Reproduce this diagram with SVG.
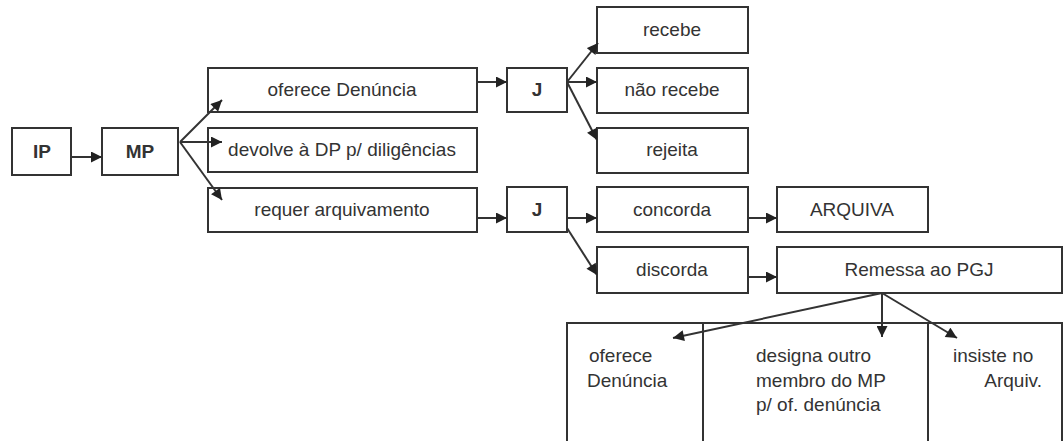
<svg xmlns="http://www.w3.org/2000/svg" width="1064" height="441" viewBox="0 0 1064 441">
<style>
.box{fill:#fff;stroke:#333;stroke-width:2}
.t{font-family:"Liberation Sans",Arial,sans-serif;font-size:19px;fill:#333;text-anchor:middle}
.b{font-weight:bold;font-size:19px}
.l{text-anchor:start}
.r{text-anchor:end}
.c{stroke:#333;stroke-width:2;fill:none;marker-end:url(#ah)}
</style>
<defs>
<marker id="ah" viewBox="0 0 10 10" refX="10" refY="5" markerWidth="6" markerHeight="5.5" orient="auto" markerUnits="strokeWidth">
<path d="M0,0 L10,5 L0,10 z" fill="#222"/>
</marker>
</defs>
<rect width="1064" height="441" fill="#fff"/>
<g id="n-ip"><rect class="box" x="12" y="128" width="59" height="47"/><text class="t b" x="42" y="158">IP</text></g>
<g id="n-mp"><rect class="box" x="102" y="128" width="76" height="47"/><text class="t b" x="140" y="158">MP</text></g>
<g id="n-oferece"><rect class="box" x="208" y="68" width="269" height="44"/><text class="t" x="342" y="96">oferece Denúncia</text></g>
<g id="n-devolve"><rect class="box" x="208" y="128" width="269" height="44"/><text class="t" x="342" y="156">devolve à DP p/ diligências</text></g>
<g id="n-requer"><rect class="box" x="208" y="188" width="269" height="44"/><text class="t" x="342" y="216">requer arquivamento</text></g>
<g id="n-j1"><rect class="box" x="507" y="68" width="60" height="44"/><text class="t b" x="537" y="96">J</text></g>
<g id="n-j2"><rect class="box" x="507" y="187" width="60" height="45"/><text class="t b" x="537" y="216">J</text></g>
<g id="n-recebe"><rect class="box" x="597" y="7" width="151" height="46"/><text class="t" x="672" y="36">recebe</text></g>
<g id="n-naorecebe"><rect class="box" x="597" y="68" width="151" height="45"/><text class="t" x="672" y="96">não recebe</text></g>
<g id="n-rejeita"><rect class="box" x="597" y="128" width="151" height="45"/><text class="t" x="672" y="156">rejeita</text></g>
<g id="n-concorda"><rect class="box" x="597" y="187" width="151" height="45"/><text class="t" x="672" y="216">concorda</text></g>
<g id="n-discorda"><rect class="box" x="597" y="247" width="151" height="46"/><text class="t" x="672" y="276">discorda</text></g>
<g id="n-arquiva"><rect class="box" x="777" y="187" width="151" height="45"/><text class="t" x="852" y="216">ARQUIVA</text></g>
<g id="n-remessa"><rect class="box" x="777" y="247" width="285" height="46"/><text class="t" x="919" y="276">Remessa ao PGJ</text></g>
<g id="n-ofden"><rect class="box" x="567" y="323" width="136" height="130"/><text class="t l" x="589" y="362">oferece</text><text class="t l" x="587" y="387">Denúncia</text></g>
<g id="n-designa"><rect class="box" x="703" y="323" width="225" height="130"/><text class="t l" x="756" y="362">designa outro</text><text class="t l" x="756" y="387">membro do MP</text><text class="t l" x="756" y="411">p/ of. denúncia</text></g>
<g id="n-insiste"><rect class="box" x="928" y="323" width="134" height="130"/><text class="t l" x="953" y="362">insiste no</text><text class="t r" x="1042" y="387">Arquiv.</text></g>
<g id="connectors">
<line class="c" x1="71" y1="157" x2="102" y2="157"/>
<line class="c" x1="180" y1="142" x2="222" y2="100"/>
<line class="c" x1="180" y1="142" x2="222" y2="142"/>
<line class="c" x1="180" y1="142" x2="222" y2="200"/>
<line class="c" x1="477" y1="82" x2="507" y2="82"/>
<line class="c" x1="567" y1="82" x2="598" y2="43"/>
<line class="c" x1="567" y1="82" x2="597" y2="82"/>
<line class="c" x1="567" y1="82" x2="597" y2="140"/>
<line class="c" x1="477" y1="218" x2="507" y2="218"/>
<line class="c" x1="567" y1="218" x2="597" y2="218"/>
<line class="c" x1="567" y1="228" x2="597" y2="275"/>
<line class="c" x1="748" y1="218" x2="777" y2="218"/>
<line class="c" x1="748" y1="277" x2="777" y2="277"/>
<line class="c" x1="882" y1="293" x2="673" y2="338"/>
<line class="c" x1="882" y1="293" x2="882" y2="337"/>
<line class="c" x1="882" y1="293" x2="957" y2="338"/>
</g>
</svg>
